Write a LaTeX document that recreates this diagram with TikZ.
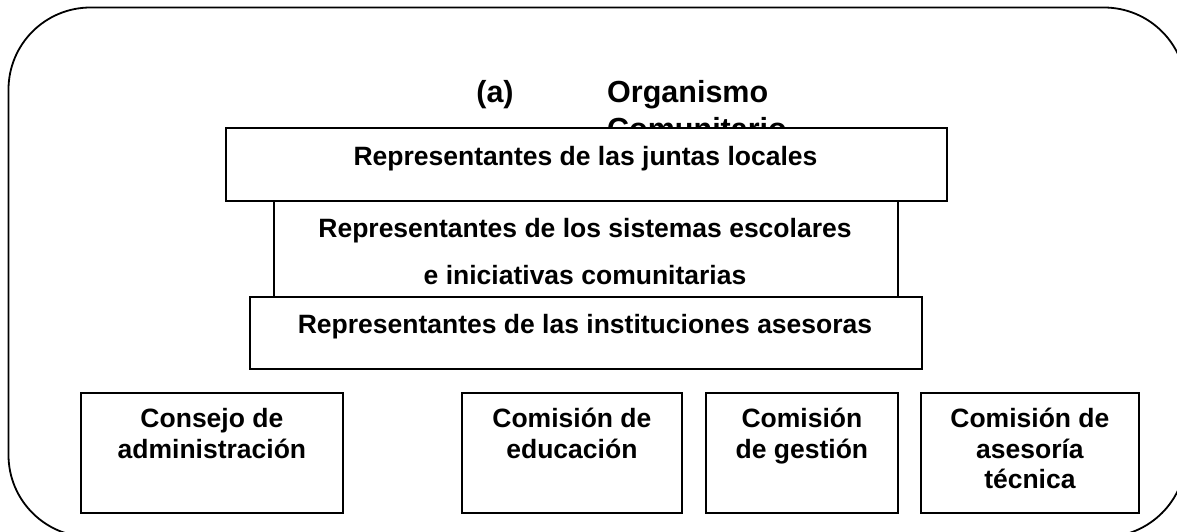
\documentclass[tikz,border=0pt]{standalone}
\usepackage{fontspec}
\setmainfont{Liberation Sans}
\begin{document}
\begin{tikzpicture}[x=1pt,y=-1pt,
  box/.style={draw, line width=1.8pt, fill=white, inner sep=0pt, anchor=north west},
  txt/.style={font=\fontsize{26.5}{30.5}\selectfont\bfseries, anchor=base, inner sep=0pt},
  ttl/.style={font=\fontsize{30.5}{35}\selectfont\bfseries, inner sep=0pt}]
\useasboundingbox (0,0) rectangle (1177,531);
\begin{scope}
  \clip (0,0) rectangle (1177,531);
  \draw[line width=1.8pt, rounded corners=82pt] (8.5,7.5) rectangle (1186,537);
\end{scope}
% title
\node[ttl, anchor=base] (ta) at (495,102) {(a)};
\node[ttl, anchor=base west] (tb) at (607,102) {Organismo};
\node[ttl, anchor=base west] (tc) at (607,139.5) {Comunitario};
% stacked boxes
\node[box, minimum width=624, minimum height=96] (b2) at (273,200) {};
\node[box, minimum width=721, minimum height=73] (b1) at (225,127) {};
\node[box, minimum width=672, minimum height=72] (b3) at (249,296) {};
\node[txt] (t1) at (585.5,165) {Representantes de las juntas locales};
\node[txt] (t2a) at (585,237) {Representantes de los sistemas escolares};
\node[txt] (t2b) at (585,284) {e iniciativas comunitarias};
\node[txt] (t3) at (585,333) {Representantes de las instituciones asesoras};
% bottom boxes
\node[box, minimum width=262, minimum height=120] (ba) at (80,392) {};
\node[box, minimum width=220, minimum height=120] (bb) at (461,392) {};
\node[box, minimum width=192, minimum height=120] (bc) at (705,392) {};
\node[box, minimum width=218, minimum height=120] (bd) at (920,392) {};
\node[txt] (a1) at (ba.center |- 0,427) {Consejo de};
\node[txt] (a2) at (ba.center |- 0,458) {administración};
\node[txt] (e1) at (bb.center |- 0,427) {Comisión de};
\node[txt] (e2) at (bb.center |- 0,458) {educación};
\node[txt] (g1) at (bc.center |- 0,427) {Comisión};
\node[txt] (g2) at (bc.center |- 0,458) {de gestión};
\node[txt] (s1) at (bd.center |- 0,427) {Comisión de};
\node[txt] (s2) at (bd.center |- 0,458) {asesoría};
\node[txt] (s3) at (bd.center |- 0,488) {técnica};
\end{tikzpicture}
\end{document}
